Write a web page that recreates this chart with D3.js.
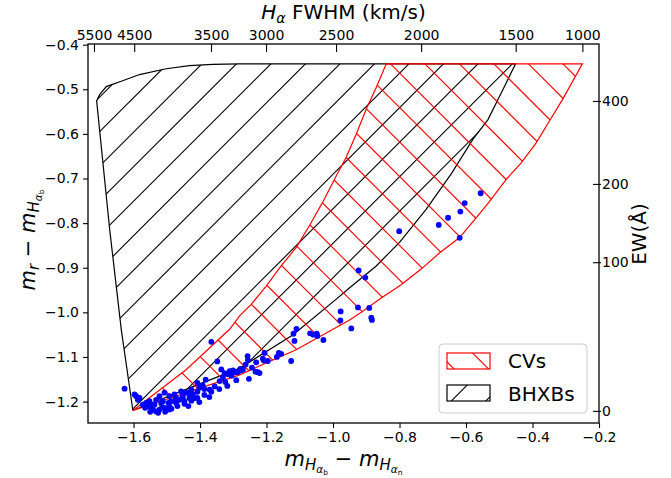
<!DOCTYPE html>
<html>
<head>
<meta charset="utf-8">
<script src="https://cdn.jsdelivr.net/npm/d3@7"></script>
<style>
  body { margin: 0; background: #fff; }
  text { font-family: "DejaVu Sans", sans-serif; }
</style>
</head>
<body>
<script>
// canvas
const W = 671, H = 478;
const MARGIN = {top: 44, right: 72, bottom: 55, left: 88};

// bottom / left axes
const xTicks = [-1.6, -1.4, -1.2, -1.0, -0.8, -0.6, -0.4, -0.2];
const yTicks = [-0.4, -0.5, -0.6, -0.7, -0.8, -0.9, -1.0, -1.1, -1.2];

// top axis: H-alpha FWHM labels and where they sit on the x scale
const fwhmLabels = [5500, 4500, 3500, 3000, 2500, 2000, 1500, 1000];
const fwhmPos = [-1.719, -1.598, -1.367, -1.2015, -0.991, -0.735, -0.4505, -0.250];

// right axis: EW labels and where they sit on the y scale
const ewLabels = [0, 100, 200, 400];
const ewPos = [-1.2208, -0.8876, -0.7121, -0.5262];

// BHXB region outline
const bhxbX = [-1.602, -1.637, -1.672, -1.711, -1.702, -1.682, -1.637, -1.582, -1.502, -1.432, -1.362, -1.281, -0.451,
               -0.484, -0.534, -0.580, -0.645, -0.720, -0.800, -0.870, -0.950, -0.991, -1.120, -1.280, -1.450, -1.602];
const bhxbY = [-1.220, -1.038, -0.813, -0.526, -0.512, -0.494, -0.482, -0.467, -0.454, -0.447, -0.444, -0.443, -0.443,
               -0.493, -0.568, -0.613, -0.690, -0.769, -0.843, -0.896, -0.945, -0.971, -1.050, -1.125, -1.175, -1.220];

// CV region outline
const cvX = [-1.602, -1.441, -1.311, -1.281, -1.246, -1.201, -1.156, -1.111, -1.071, -1.031, -0.990, -0.960, -0.930, -0.900, -0.870, -0.840,
             -0.250, -0.309, -0.349, -0.389, -0.434, -0.479, -0.529, -0.574, -0.620, -0.680, -0.735, -0.795, -0.855, -0.915, -0.950, -1.111, -1.281, -1.602];
const cvY = [-1.220, -1.128, -1.038, -1.008, -0.982, -0.941, -0.896, -0.855, -0.806, -0.753, -0.694, -0.652, -0.600, -0.544, -0.496, -0.443,
             -0.443, -0.522, -0.571, -0.620, -0.665, -0.702, -0.751, -0.792, -0.833, -0.867, -0.903, -0.938, -0.968, -1.000, -1.017, -1.084, -1.140, -1.220];

// observed sources
const srcX = [-0.556,-0.604,-0.617,-0.654,-0.682,-0.801,-0.619,
  -0.923,-0.903,-0.925,-0.891,-0.885,-0.883,-0.945,-0.977,-0.978,
  -1.110,-1.119,-1.069,-1.059,-1.049,-1.047,-1.029,-1.116,
  -1.257,-1.163,-1.156,-1.169,-1.206,-1.196,-1.208,-1.211,-1.126,
  -1.231,-1.256,-1.263,-1.244,-1.271,-1.286,-1.279,-1.296,-1.311,-1.326,-1.316,-1.331,
  -1.336,-1.301,-1.276,-1.233,-1.226,-1.253,-1.291,-1.221,-1.341,-1.324,
  -1.366,-1.348,-1.383,-1.408,-1.426,-1.402,-1.371,
  -1.627,-1.597,-1.592,-1.582,-1.587,
  -1.507,-1.522,-1.492,-1.552,-1.532,-1.512,-1.472,-1.452,-1.432,-1.447,
  -1.472,-1.492,-1.507,-1.522,-1.542,-1.552,-1.537,-1.562,-1.487,
  -1.422,-1.417,-1.437,-1.462,-1.492,-1.517,-1.532,-1.572,-1.477,-1.457,-1.442,
  -1.392,-1.356,-1.305,
  -1.565,-1.550,-1.526,-1.505,-1.486,-1.468,-1.447,-1.426,-1.408,-1.387,-1.366,-1.342,-1.318,
  -1.495,-1.474,-1.453,-1.429,-1.408,-1.387,-1.544,-1.514,-1.435,-1.402,-1.372];
const srcY = [-0.733,-0.755,-0.774,-0.788,-0.804,-0.818,-0.833,
  -0.906,-0.922,-0.989,-0.990,-1.012,-1.017,-1.036,-0.998,-1.018,
  -1.037,-1.048,-1.047,-1.050,-1.048,-1.053,-1.062,-1.064,
  -1.098,-1.091,-1.093,-1.100,-1.091,-1.109,-1.108,-1.104,-1.109,
  -1.112,-1.107,-1.117,-1.124,-1.128,-1.134,-1.127,-1.134,-1.132,-1.136,-1.139,-1.145,
  -1.128,-1.130,-1.130,-1.133,-1.134,-1.149,-1.152,-1.136,-1.154,-1.156,
  -1.066,-1.110,-1.151,-1.158,-1.173,-1.169,-1.173,
  -1.171,-1.184,-1.188,-1.192,-1.196,
  -1.180,-1.188,-1.188,-1.199,-1.196,-1.199,-1.192,-1.188,-1.192,-1.199,
  -1.203,-1.211,-1.214,-1.218,-1.218,-1.211,-1.207,-1.203,-1.199,
  -1.184,-1.192,-1.180,-1.196,-1.218,-1.203,-1.222,-1.207,-1.184,-1.177,-1.180,
  -1.164,-1.166,-1.142,
  -1.214,-1.223,-1.225,-1.223,-1.216,-1.210,-1.205,-1.198,-1.192,-1.185,-1.178,-1.172,-1.165,
  -1.203,-1.196,-1.192,-1.185,-1.178,-1.172,-1.210,-1.212,-1.210,-1.201,-1.190];

const svg = d3.select("body").append("svg")
    .attr("width", W).attr("height", H);

const x = d3.scaleLinear().domain([-1.737, -0.2]).range([MARGIN.left, W - MARGIN.right]);
const y = d3.scaleLinear().domain([-1.248, -0.3985]).range([H - MARGIN.bottom, MARGIN.top]);

const line = d3.line().x(d => x(d[0])).y(d => y(d[1]));
const bhxb = d3.zip(bhxbX, bhxbY);
const cv = d3.zip(cvX, cvY);

// hatch lines are laid out in page pixels, like matplotlib does
const HATCH = 34.5;
function hatch(g, dir, offset, color) {
  const ks = d3.range(-Math.ceil(H / HATCH) - 2, Math.ceil((W + H) / HATCH) + 2);
  g.selectAll("line").data(ks).join("line")
      .attr("x1", k => offset + k * HATCH)
      .attr("y1", 0)
      .attr("x2", k => offset + k * HATCH + (dir === "/" ? -H : H))
      .attr("y2", H)
      .attr("stroke", color)
      .attr("stroke-width", 1.1);
}

const defs = svg.append("defs");
defs.append("clipPath").attr("id", "clip-bhxb").append("path").attr("d", line(bhxb));
defs.append("clipPath").attr("id", "clip-cv").append("path").attr("d", line(cv));
defs.append("clipPath").attr("id", "clip-leg-cv").append("rect")
    .attr("x", 447).attr("y", 353).attr("width", 43).attr("height", 16);
defs.append("clipPath").attr("id", "clip-leg-bh").append("rect")
    .attr("x", 447).attr("y", 385).attr("width", 43).attr("height", 16);

// BHXB region
hatch(svg.append("g").attr("clip-path", "url(#clip-bhxb)"), "/", 24.3, "#000");
svg.append("path").attr("d", line(bhxb))
    .attr("fill", "none").attr("stroke", "#000").attr("stroke-width", 1.2);

// CV region
hatch(svg.append("g").attr("clip-path", "url(#clip-cv)"), "\\", 16.1, "#ff0000");
svg.append("path").attr("d", line(cv))
    .attr("fill", "none").attr("stroke", "#ff0000").attr("stroke-width", 1.2);

// sources
svg.append("g").selectAll("circle").data(d3.zip(srcX, srcY)).join("circle")
    .attr("cx", d => x(d[0])).attr("cy", d => y(d[1]))
    .attr("r", 2.9).attr("fill", "#0000ff");

// axes
const fmt = d3.format(".1f");
const xAxis = svg.append("g").attr("transform", `translate(0,${H - MARGIN.bottom})`)
    .call(d3.axisBottom(x).tickValues(xTicks).tickFormat(fmt).tickSize(5).tickPadding(4).tickSizeOuter(0));
const yAxis = svg.append("g").attr("transform", `translate(${MARGIN.left},0)`)
    .call(d3.axisLeft(y).tickValues(yTicks).tickFormat(fmt).tickSize(5).tickPadding(4).tickSizeOuter(0));
const topAxis = svg.append("g").attr("transform", `translate(0,${MARGIN.top})`)
    .call(d3.axisTop(x).tickValues(fwhmPos).tickFormat((d, i) => fwhmLabels[i]).tickSize(-8).tickPadding(4).tickSizeOuter(0));
const rightAxis = svg.append("g").attr("transform", `translate(${W - MARGIN.right},0)`)
    .call(d3.axisRight(y).tickValues(ewPos).tickFormat((d, i) => ewLabels[i]).tickSize(-6).tickPadding(3).tickSizeOuter(0));

[xAxis, yAxis, topAxis, rightAxis].forEach(a => {
  a.selectAll("text").attr("font-size", 14).attr("fill", "#000")
      .attr("font-family", "DejaVu Sans, sans-serif");
  a.selectAll("line").attr("stroke", "#000").attr("stroke-width", 1.1);
  a.select(".domain").remove();
});
// small outward stubs on right ticks
rightAxis.selectAll(".tick line").attr("x1", 2);

// frame
svg.append("rect")
    .attr("x", MARGIN.left).attr("y", MARGIN.top)
    .attr("width", W - MARGIN.left - MARGIN.right)
    .attr("height", H - MARGIN.top - MARGIN.bottom)
    .attr("fill", "none").attr("stroke", "#000").attr("stroke-width", 1.3);

// legend
const leg = svg.append("g");
leg.append("rect").attr("x", 439).attr("y", 344).attr("width", 148).attr("height", 69).attr("rx", 4)
    .attr("fill", "#fff").attr("fill-opacity", 0.8).attr("stroke", "#cccccc");
hatch(leg.append("g").attr("clip-path", "url(#clip-leg-cv)"), "\\", 16.1, "#ff0000");
leg.append("rect").attr("x", 447).attr("y", 353).attr("width", 43).attr("height", 16)
    .attr("fill", "none").attr("stroke", "#ff0000").attr("stroke-width", 1.2);
hatch(leg.append("g").attr("clip-path", "url(#clip-leg-bh)"), "/", 24.3, "#000");
leg.append("rect").attr("x", 447).attr("y", 385).attr("width", 43).attr("height", 16)
    .attr("fill", "none").attr("stroke", "#000").attr("stroke-width", 1.2);
leg.append("text").attr("x", 508).attr("y", 368).attr("font-size", 20).text("CVs");
leg.append("text").attr("x", 508).attr("y", 401).attr("font-size", 20).text("BHXBs");

// axis titles (math style with sub/sub-subscripts)
function mathLabel(t, parts) {
  let shift = 0;
  parts.forEach(p => {
    const ts = t.append("tspan").text(p.t).attr("font-size", p.s);
    if (p.i) ts.attr("font-style", "italic");
    ts.attr("dy", p.dy - shift);
    shift = p.dy;
  });
}
const xl = svg.append("text").attr("x", (MARGIN.left + W - MARGIN.right) / 2).attr("y", 466)
    .attr("text-anchor", "middle");
mathLabel(xl, [
  {t: "m", s: 21, i: true, dy: 0}, {t: "H", s: 15, i: true, dy: 4}, {t: "α", s: 10.5, i: true, dy: 7}, {t: "b", s: 7.5, dy: 9},
  {t: " − ", s: 21, dy: 0}, {t: "m", s: 21, i: true, dy: 0}, {t: "H", s: 15, i: true, dy: 4}, {t: "α", s: 10.5, i: true, dy: 7}, {t: "n", s: 7.5, dy: 9}
]);

const yl = svg.append("text").attr("transform", "translate(35,240) rotate(-90)")
    .attr("text-anchor", "middle");
mathLabel(yl, [
  {t: "m", s: 21, i: true, dy: 0}, {t: "r", s: 15, i: true, dy: 4},
  {t: " − ", s: 21, dy: 0}, {t: "m", s: 21, i: true, dy: 0}, {t: "H", s: 15, i: true, dy: 4}, {t: "α", s: 10.5, i: true, dy: 7}, {t: "b", s: 7.5, dy: 9}
]);

const tl = svg.append("text").attr("x", (MARGIN.left + W - MARGIN.right) / 2).attr("y", 19)
    .attr("text-anchor", "middle");
mathLabel(tl, [
  {t: "H", s: 20, i: true, dy: 0}, {t: "α", s: 14, i: true, dy: 4}, {t: " FWHM (km/s)", s: 20, dy: 0}
]);

svg.append("text").attr("transform", "translate(646,234) rotate(-90)")
    .attr("text-anchor", "middle").attr("font-size", 20).text("EW(Å)");
</script>
</body>
</html>
